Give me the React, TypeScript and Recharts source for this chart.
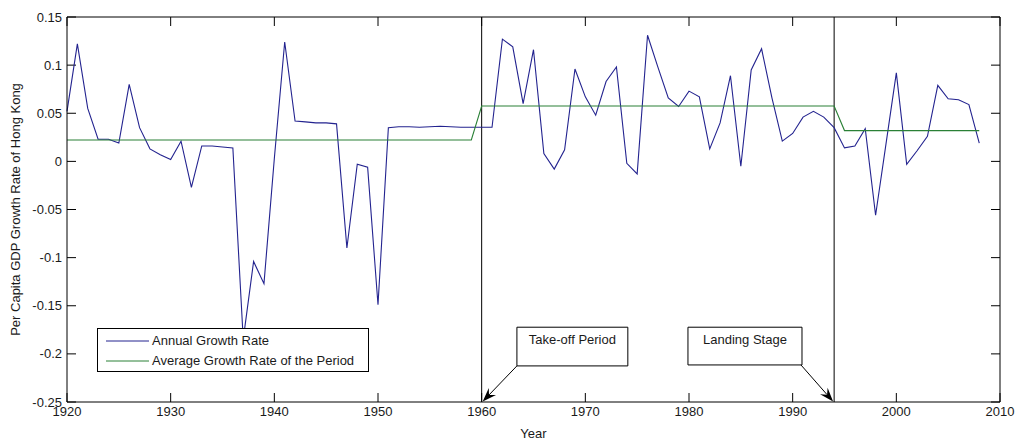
import { LineChart, Line, XAxis, YAxis, ReferenceLine, ReferenceArea, Legend } from "recharts"

const years = [
  1920, 1921, 1922, 1923, 1924, 1925, 1926, 1927, 1928, 1929,
  1930, 1931, 1932, 1933, 1934, 1935, 1936, 1937, 1938, 1939,
  1940, 1941, 1942, 1943, 1944, 1945, 1946, 1947, 1948, 1949,
  1950, 1951, 1952, 1953, 1954, 1955, 1956, 1957, 1958, 1959,
  1960, 1961, 1962, 1963, 1964, 1965, 1966, 1967, 1968, 1969,
  1970, 1971, 1972, 1973, 1974, 1975, 1976, 1977, 1978, 1979,
  1980, 1981, 1982, 1983, 1984, 1985, 1986, 1987, 1988, 1989,
  1990, 1991, 1992, 1993, 1994, 1995, 1996, 1997, 1998, 1999,
  2000, 2001, 2002, 2003, 2004, 2005, 2006, 2007, 2008,
]

const annualGrowth = [
  0.052, 0.122, 0.055, 0.023, 0.023, 0.019, 0.08, 0.035, 0.013, 0.007,
  0.002, 0.021, -0.027, 0.016, 0.016, 0.015, 0.014, -0.185, -0.104, -0.127,
  0.003, 0.124, 0.042, 0.041, 0.04, 0.04, 0.039, -0.09, -0.003, -0.006,
  -0.149, 0.035, 0.036, 0.036, 0.0355, 0.036, 0.0365, 0.036, 0.0355, 0.0355,
  0.0355, 0.0355, 0.127, 0.119, 0.06, 0.116, 0.008, -0.008, 0.012, 0.096,
  0.067, 0.048, 0.083, 0.098, -0.002, -0.013, 0.131, 0.098, 0.066, 0.057,
  0.073, 0.067, 0.013, 0.04, 0.089, -0.005, 0.095, 0.117, 0.066, 0.021,
  0.029, 0.046, 0.052, 0.046, 0.035, 0.014, 0.016, 0.034, -0.056, 0.018,
  0.092, -0.003, 0.011, 0.026, 0.079, 0.065, 0.064, 0.059, 0.019,
]

// first year of each period and its average growth rate
const periodStarts = [1920, 1960, 1995]
const periodAverages = [0.0222, 0.0575, 0.032]
const periodBreaks = [1960, 1994]

const yearTicks = [1920, 1930, 1940, 1950, 1960, 1970, 1980, 1990, 2000, 2010]
const rateTicks = [-0.25, -0.2, -0.15, -0.1, -0.05, 0, 0.05, 0.1, 0.15]
const rateTickLabels = ["-0.25", "-0.2", "-0.15", "-0.1", "-0.05", "0", "0.05", "0.1", "0.15"]

const data = years.map((year, i) => {
  let period = 0
  periodStarts.forEach((start, k) => {
    if (year >= start) period = k
  })
  return { year, annual: annualGrowth[i], average: periodAverages[period] }
})

const FONT = "'Liberation Sans', Arial, Helvetica, sans-serif"
const BLUE = "#23238f"
const GREEN = "#2a8036"
const INK = "#1a1a1a"
const TICK_LEN = 9

// inward tick marks at both ends of a full-span reference line
const BoxTicks = (props: any) => {
  const { x1, y1, x2, y2 } = props
  const len = Math.hypot(x2 - x1, y2 - y1) || 1
  const ux = ((x2 - x1) / len) * TICK_LEN
  const uy = ((y2 - y1) / len) * TICK_LEN
  return (
    <g>
      <line x1={x1} y1={y1} x2={x1 + ux} y2={y1 + uy} stroke="#000" strokeWidth={1} />
      <line x1={x2} y1={y2} x2={x2 - ux} y2={y2 - uy} stroke="#000" strokeWidth={1} />
    </g>
  )
}

// straight arrow with a notched, filled head at its end point
const Arrow = (props: any) => {
  const { x1, y1, x2, y2 } = props
  const a = Math.atan2(y2 - y1, x2 - x1)
  const cos = Math.cos(a)
  const sin = Math.sin(a)
  const len = 14
  const half = 5
  const bx = x2 - len * cos
  const by = y2 - len * sin
  const nx = x2 - len * 0.65 * cos
  const ny = y2 - len * 0.65 * sin
  const pts = [
    [x2, y2],
    [bx + half * sin, by - half * cos],
    [nx, ny],
    [bx - half * sin, by + half * cos],
  ]
  return (
    <g>
      <line x1={x1} y1={y1} x2={nx} y2={ny} stroke="#000" strokeWidth={1} />
      <polygon points={pts.map((p) => p.join(",")).join(" ")} fill="#000" />
    </g>
  )
}

const LegendBox = () => (
  <div
    style={{
      position: "relative",
      width: 270,
      height: 42,
      border: "1px solid #000",
      background: "#fff",
      fontFamily: FONT,
      fontSize: 13,
      color: INK,
    }}
  >
    <svg width={60} height={42} style={{ position: "absolute", left: 0, top: 0 }}>
      <line x1={8} x2={51} y1={12} y2={12} stroke={BLUE} strokeWidth={1} />
      <line x1={8} x2={51} y1={32} y2={32} stroke={GREEN} strokeWidth={1} />
    </svg>
    <div style={{ position: "absolute", left: 54, top: 4, whiteSpace: "nowrap" }}>Annual Growth Rate</div>
    <div style={{ position: "absolute", left: 54, top: 24, whiteSpace: "nowrap" }}>Average Growth Rate of the Period</div>
  </div>
)

export default function App() {
  return (
    <div style={{ position: "absolute", left: 0, top: 0, width: 1019, height: 444, background: "#fff" }}>
      <LineChart width={1019} height={444} data={data} margin={{ top: 16, right: 18, left: 7, bottom: 2 }}>
        {/* top and right edges of the box */}
        <XAxis
          xAxisId="top"
          dataKey="year"
          type="number"
          orientation="top"
          domain={[1920, 2010]}
          allowDataOverflow
          ticks={yearTicks}
          height={1}
          tickLine={false}
          tick={false}
          stroke="#000"
        />
        <YAxis
          yAxisId="right"
          type="number"
          orientation="right"
          domain={[-0.25, 0.15]}
          allowDataOverflow
          ticks={rateTicks}
          width={1}
          tickLine={false}
          tick={false}
          stroke="#000"
        />

        {/* labelled axes */}
        <XAxis
          dataKey="year"
          type="number"
          domain={[1920, 2010]}
          ticks={yearTicks}
          interval={0}
          height={40}
          tickLine={false}
          tickSize={0}
          tickMargin={5}
          stroke="#000"
          tick={{ fill: INK, fontSize: 13, fontFamily: FONT }}
          label={{ value: "Year", position: "insideBottom", offset: 4, fill: INK, fontSize: 13, fontFamily: FONT }}
        />
        <YAxis
          type="number"
          domain={[-0.25, 0.15]}
          ticks={rateTicks}
          interval={0}
          width={60}
          tickLine={false}
          tickSize={0}
          tickMargin={5}
          stroke="#000"
          tickFormatter={(_v: number, i: number) => rateTickLabels[i]}
          tick={{ fill: INK, fontSize: 13, fontFamily: FONT }}
          label={{
            value: "Per Capita GDP Growth Rate of Hong Kong",
            angle: -90,
            position: "insideLeft",
            offset: 8,
            fill: INK,
            fontSize: 13,
            fontFamily: FONT,
            style: { textAnchor: "middle" },
          }}
        />

        {/* inward tick marks on all four sides */}
        {yearTicks.map((t) => (
          <ReferenceLine key={`xt${t}`} x={t} shape={BoxTicks} />
        ))}
        {rateTicks.map((t) => (
          <ReferenceLine key={`yt${t}`} y={t} shape={BoxTicks} />
        ))}

        {periodBreaks.map((y) => (
          <ReferenceLine key={y} x={y} stroke="#000" strokeWidth={1} />
        ))}

        <ReferenceArea
          x1={1963.4}
          x2={1974.1}
          y1={-0.2125}
          y2={-0.1723}
          fill="#fff"
          fillOpacity={1}
          stroke="#000"
          strokeWidth={1}
          label={{ value: "Take-off Period", position: "insideTop", offset: 8, fill: INK, fontSize: 13, fontFamily: FONT }}
        />
        <ReferenceArea
          x1={1979.9}
          x2={1990.9}
          y1={-0.2115}
          y2={-0.1723}
          fill="#fff"
          fillOpacity={1}
          stroke="#000"
          strokeWidth={1}
          label={{ value: "Landing Stage", position: "insideTop", offset: 8, fill: INK, fontSize: 13, fontFamily: FONT }}
        />
        <ReferenceLine
          segment={[{ x: 1963.4, y: -0.2125 }, { x: 1960.1, y: -0.2495 }]}
          shape={Arrow}
          ifOverflow="visible"
        />
        <ReferenceLine
          segment={[{ x: 1990.8, y: -0.2115 }, { x: 1993.9, y: -0.2495 }]}
          shape={Arrow}
          ifOverflow="visible"
        />

        <Line
          type="linear"
          dataKey="annual"
          name="Annual Growth Rate"
          stroke={BLUE}
          strokeWidth={1.1}
          dot={false}
          activeDot={false}
          isAnimationActive={false}
        />
        <Line
          type="linear"
          dataKey="average"
          name="Average Growth Rate of the Period"
          xAxisId="top"
          yAxisId="right"
          stroke={GREEN}
          strokeWidth={1.1}
          dot={false}
          activeDot={false}
          isAnimationActive={false}
        />
        <Legend
          layout="vertical"
          align="center"
          verticalAlign="middle"
          content={() => <LegendBox />}
          wrapperStyle={{ position: "absolute", left: 97, top: 328, width: 272, height: 44 }}
        />
      </LineChart>
    </div>
  )
}
